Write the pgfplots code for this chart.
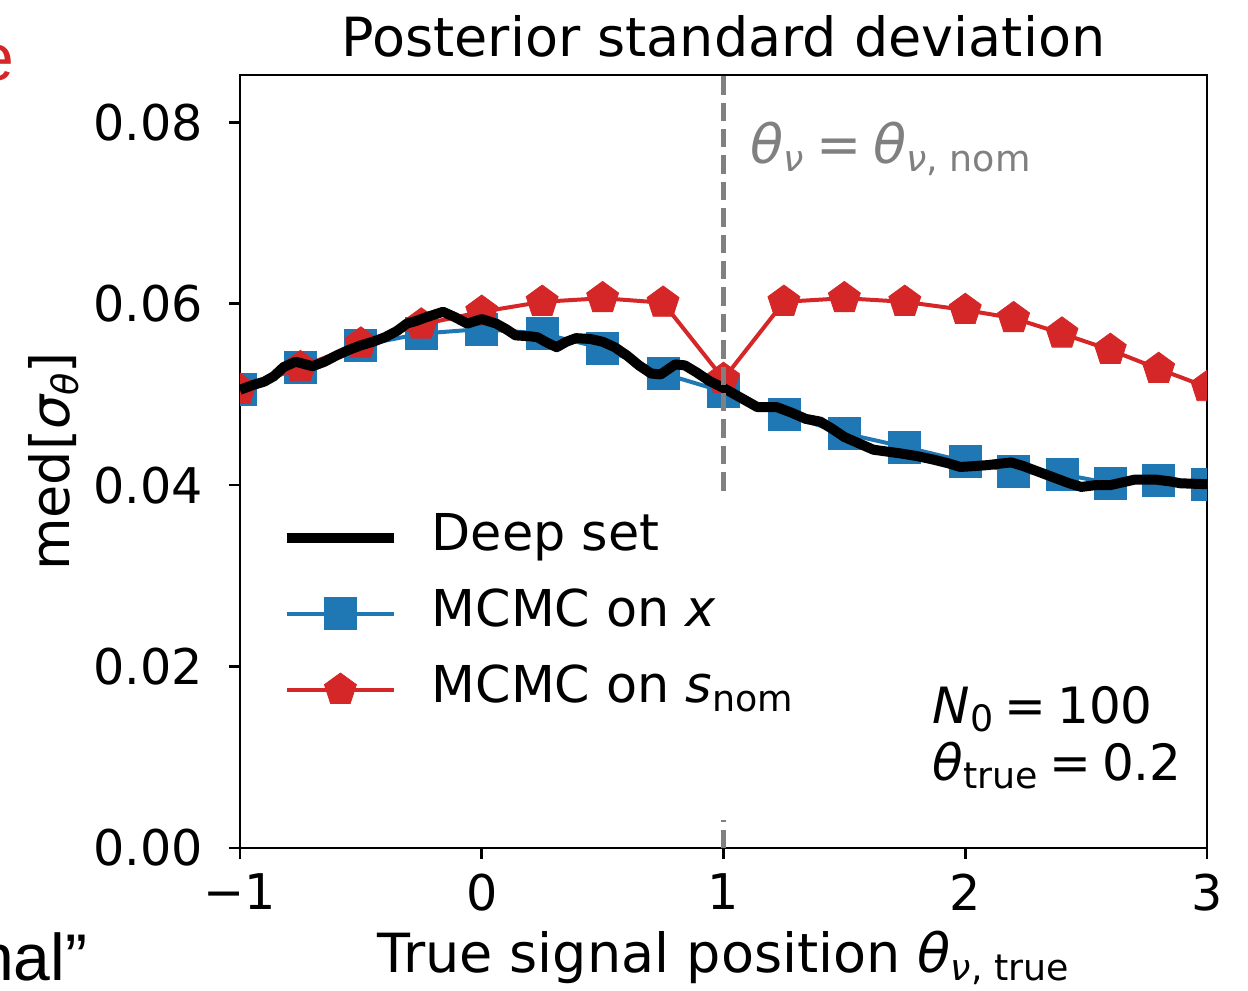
\documentclass[border=0pt]{standalone}
\usepackage{fontspec}
\setmainfont{DejaVu Sans}[ItalicFont={DejaVu Sans Oblique}]
\newfontfamily\arialfont{Liberation Sans}
\usepackage{pgfplots}
\pgfplotsset{compat=1.18}
\definecolor{tabblue}{RGB}{31,119,180}
\definecolor{tabred}{RGB}{214,39,40}
\definecolor{vgray}{RGB}{128,128,128}
\newcommand\fs{\fontsize{13.5pt}{16pt}\selectfont}
\newcommand\ft{\fontsize{12.3pt}{14pt}\selectfont}
\newcommand\fl{\fontsize{12.7pt}{15pt}\selectfont}
\newcommand\fa{\fontsize{12.5pt}{15pt}\selectfont}
\newcommand\sbs[1]{\raisebox{-2.2pt}{\fontsize{9.1pt}{10pt}\selectfont #1}}
\newcommand\eq{\hspace{0.22em}=\hspace{0.22em}}

\begin{document}
\begin{tikzpicture}
\begin{axis}[
    at={(0pt,0pt)}, anchor=south west,
    scale only axis, width=241.75pt, height=193.25pt,
    xmin=-1, xmax=3, ymin=0, ymax=0.0852,
    xtick={-1,0,1,2,3}, xticklabels={−1,0,1,2,3},
    ytick={0,0.02,0.04,0.06,0.08}, yticklabels={0.00,0.02,0.04,0.06,0.08},
    scaled ticks=false,
    tick pos=left, tick align=outside, major tick length=2.75pt,
    tick style={black, line width=0.67pt},
    axis line style={line width=0.67pt},
    tick label style={font=\ft},
    xticklabel style={inner sep=0pt, yshift=-3.5pt},
    yticklabel style={inner sep=0pt, xshift=-6.25pt},
    clip marker paths=true,
    legend cell align=left,
    legend style={at={(0.0424,0.4347)}, anchor=north west, draw=none, fill=none,
        inner sep=0pt, column sep=8.25pt, row sep=6.5pt, font=\fl,
        nodes={inner sep=0pt, text height=9.5pt, text depth=3pt}},
    legend image code/.code={\draw[mark repeat=2, mark phase=2, #1]
        plot coordinates {(0pt,0pt) (13.4pt,0pt) (26.75pt,0pt)};},
]
\addlegendimage{black, line width=2.5pt}
\addlegendentry{Deep set}
\addlegendimage{tabblue, line width=1pt, mark=square*, mark size=4pt, mark options={solid, line width=0.2pt}}
\addlegendentry{MCMC on {\itshape x}}
\addlegendimage{tabred, line width=1pt, mark=pentagon*, mark size=4.2pt, mark options={solid, line width=0.2pt}}
\addlegendentry{MCMC on {\itshape s}\sbs{nom}}

% MCMC on x
\addplot[forget plot, tabblue, line width=1pt, mark=square*, mark size=4pt, mark options={solid, line width=0.2pt}] coordinates {
    (-1,0.0505) (-0.75,0.0530) (-0.5,0.0554) (-0.25,0.0567) (0,0.0572) (0.25,0.0567)
    (0.5,0.0551) (0.75,0.0523) (1,0.0503) (1.25,0.0478) (1.5,0.0457) (1.75,0.0442)
    (2,0.0426) (2.2,0.0415) (2.4,0.0412) (2.6,0.0402) (2.8,0.0405) (3,0.0401)
};
% MCMC on s_nom
\addplot[forget plot, tabred, line width=1pt, mark=pentagon*, mark size=4.2pt, mark options={solid, line width=0.2pt}] coordinates {
    (-1,0.0505) (-0.75,0.0530) (-0.5,0.0556) (-0.25,0.0577) (0,0.0591) (0.25,0.0602)
    (0.5,0.0606) (0.75,0.0601) (1,0.0517) (1.25,0.0602) (1.5,0.0606) (1.75,0.0602)
    (2,0.0593) (2.2,0.0584) (2.4,0.0567) (2.6,0.0549) (2.8,0.0528) (3,0.0508)
};
% deep set
\addplot[forget plot, black, line width=2.5pt, line join=round] coordinates {
    (-1.00,0.0505) (-0.95,0.0510) (-0.90,0.0514) (-0.86,0.0520) (-0.82,0.0530)
    (-0.77,0.0536) (-0.70,0.0531) (-0.65,0.0536) (-0.60,0.0543) (-0.55,0.0549)
    (-0.50,0.0554) (-0.45,0.0558) (-0.40,0.0563) (-0.35,0.0570) (-0.31,0.0578)
    (-0.27,0.0581) (-0.23,0.0585) (-0.16,0.0591) (-0.11,0.0585) (-0.06,0.0578)
    (0.00,0.0583) (0.06,0.0578) (0.10,0.0572) (0.14,0.0565) (0.20,0.0564)
    (0.23,0.0563) (0.27,0.0557) (0.31,0.0552) (0.35,0.0558) (0.39,0.0562)
    (0.45,0.0561) (0.50,0.0558) (0.55,0.0552) (0.60,0.0543) (0.65,0.0532)
    (0.70,0.0523) (0.74,0.0522) (0.80,0.0533) (0.84,0.0532) (0.89,0.0524)
    (0.94,0.0515) (1.00,0.0507) (1.06,0.0498) (1.14,0.0486) (1.22,0.0486)
    (1.28,0.0480) (1.34,0.0473) (1.40,0.0470) (1.45,0.0462) (1.50,0.0453)
    (1.56,0.0446) (1.62,0.0439) (1.73,0.0435) (1.80,0.0432) (1.87,0.0428)
    (1.93,0.0424) (1.98,0.0420) (2.04,0.0421) (2.09,0.0422) (2.19,0.0425)
    (2.24,0.0421) (2.28,0.0417) (2.33,0.0412) (2.38,0.0407) (2.43,0.0402)
    (2.48,0.0398) (2.54,0.0400) (2.60,0.0400) (2.65,0.0403) (2.70,0.0406)
    (2.79,0.0406) (2.85,0.0404) (2.89,0.0402) (3.00,0.0401)
};
% nominal position
\addplot[forget plot, vgray, line width=1.25pt, dash pattern=on 4.6pt off 2pt] coordinates {(1,0.0394) (1,0.0852)};
\addplot[forget plot, vgray, line width=1.25pt, dash pattern=on 4.6pt off 2pt] coordinates {(1,0) (1,0.0031)};
\end{axis}

\node[anchor=base, font=\fs] at (120.875pt,198pt) {Posterior standard deviation};
\node[anchor=base, font=\fs] at (120.875pt,-31pt) {True signal position {\itshape θ}\sbs{{\itshape ν}, true}};
\node[anchor=base, rotate=90, font=\fs] at (-42.5pt,96.6pt) {med[{\itshape σ}\sbs{\itshape θ}]};
\node[anchor=base west, inner sep=0pt, font=\fs, text=vgray] at (127.5pt,171.25pt) {{\itshape θ}\sbs{\itshape ν}\eq{\itshape θ}\sbs{{\itshape ν}, nom}};
\node[anchor=base west, inner sep=0pt, font=\fa] at (173pt,31.25pt) {{\itshape N}\sbs{0}\eq 100};
\node[anchor=base west, inner sep=0pt, font=\fa] at (173pt,17pt) {{\itshape θ}\sbs{true}\eq 0.2};
% fragments of the neighbouring panels
\node[anchor=base east, inner sep=0pt, font=\arialfont\fontsize{16.5pt}{18pt}\selectfont] at (-38pt,-33pt) {nal”};
\node[anchor=base east, inner sep=0pt, text=tabred, font=\arialfont\fontsize{16.5pt}{18pt}\selectfont] at (-56.25pt,192pt) {e};

\pgfresetboundingbox
\useasboundingbox (-60pt,-35.5pt) rectangle (252pt,212pt);
\end{tikzpicture}
\end{document}
